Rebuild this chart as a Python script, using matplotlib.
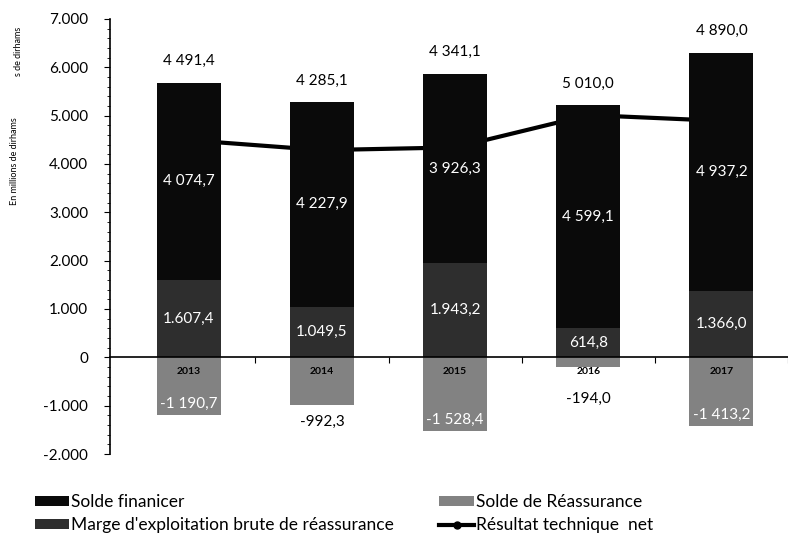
import numpy as np
import matplotlib.pyplot as plt
from matplotlib.ticker import FuncFormatter, MultipleLocator

plt.rcParams['font.family'] = ['Lato', 'DejaVu Sans']

years = ['2013', '2014', '2015', '2016', '2017']
marge = [1607.4, 1049.5, 1943.2, 614.8, 1366.0]
solde_fin = [4074.7, 4227.9, 3926.3, 4599.1, 4937.2]
reassurance = [-1190.7, -992.3, -1528.4, -194.0, -1413.2]
resultat = [4491.4, 4285.1, 4341.1, 5010.0, 4890.0]


def fr(v, sep=' '):
    # French style: space (or dot) for thousands, comma for decimals
    s = f"{abs(v):,.1f}".replace(',', '#').replace('.', ',').replace('#', sep)
    return ('-' if v < 0 else '') + s


fig = plt.figure(figsize=(7.88, 5.38), dpi=100)
ax = fig.add_axes([0.14, 0.156, 0.86, 0.809])

x = np.arange(len(years))
w = 0.48
c_fin = '#0a0a0a'
c_marge = '#2e2e2e'
c_reas = '#828282'

ax.plot(x, resultat, color='black', lw=3, marker='o', ms=5, zorder=0.5,
        label='Résultat technique  net')
b_marge = ax.bar(x, marge, w, color=c_marge, zorder=1,
                 label="Marge d'exploitation brute de réassurance")
b_fin = ax.bar(x, solde_fin, w, bottom=marge, color=c_fin, zorder=1,
               label='Solde finanicer')
b_reas = ax.bar(x, reassurance, w, color=c_reas, zorder=1,
                label='Solde de Réassurance')

tops = np.array(marge) + np.array(solde_fin)
for i in range(len(years)):
    ax.text(x[i], tops[i] + 300, fr(resultat[i]), ha='center', va='bottom',
            fontsize=11, color='black')
    ax.text(x[i], marge[i] + solde_fin[i] / 2, fr(solde_fin[i]), ha='center',
            va='center', fontsize=11, color='white')
    ax.text(x[i], marge[i] / 2, fr(marge[i], '.'), ha='center', va='center',
            fontsize=11, color='white')
    r = reassurance[i]
    if r < -1100:
        ax.text(x[i], r + 230, fr(r), ha='center', va='center',
                fontsize=11, color='white')
    else:
        ax.text(x[i], min(r - 350, -850), fr(r), ha='center', va='center',
                fontsize=11, color='black')
    ax.text(x[i], -300, years[i], ha='center', va='center', fontsize=7.5,
            fontweight='bold', color='black', zorder=3)

ax.set_xlim(-0.59, 4.405)
ax.set_ylim(-2000, 7000)
ax.yaxis.set_major_locator(MultipleLocator(1000))
ax.yaxis.set_minor_locator(MultipleLocator(200))
ax.yaxis.set_major_formatter(FuncFormatter(lambda v, p: f"{v:,.0f}".replace(',', '.')))
ax.tick_params(axis='y', which='major', length=4, labelsize=11, pad=12)
ax.tick_params(axis='y', which='minor', length=2.5)

ax.spines['top'].set_visible(False)
ax.spines['right'].set_visible(False)
ax.spines['bottom'].set_position(('data', 0))
ax.spines['bottom'].set_linewidth(1.2)
ax.spines['left'].set_linewidth(1.2)
ax.set_xticks(x + 0.5)
ax.set_xticklabels([])
ax.tick_params(axis='x', length=4)

fig.text(0.019, 0.70, 'En millions de dirhams', rotation=90, ha='center',
         va='center', fontsize=6.5)
fig.text(0.023, 0.905, 's de dirhams', rotation=90, ha='center',
         va='center', fontsize=6.5)

handles = [b_fin, b_marge, b_reas, ax.lines[0]]
labels = [h.get_label() for h in handles]
fig.legend(handles, labels, ncol=2, loc='upper left',
           bbox_to_anchor=(0.044, 0.082), frameon=False, fontsize=12.5,
           handlelength=2.0, handleheight=0.5, handletextpad=0.1,
           columnspacing=2.6, labelspacing=0.42, borderaxespad=0, borderpad=0)

fig.savefig('out.png', dpi=100)
